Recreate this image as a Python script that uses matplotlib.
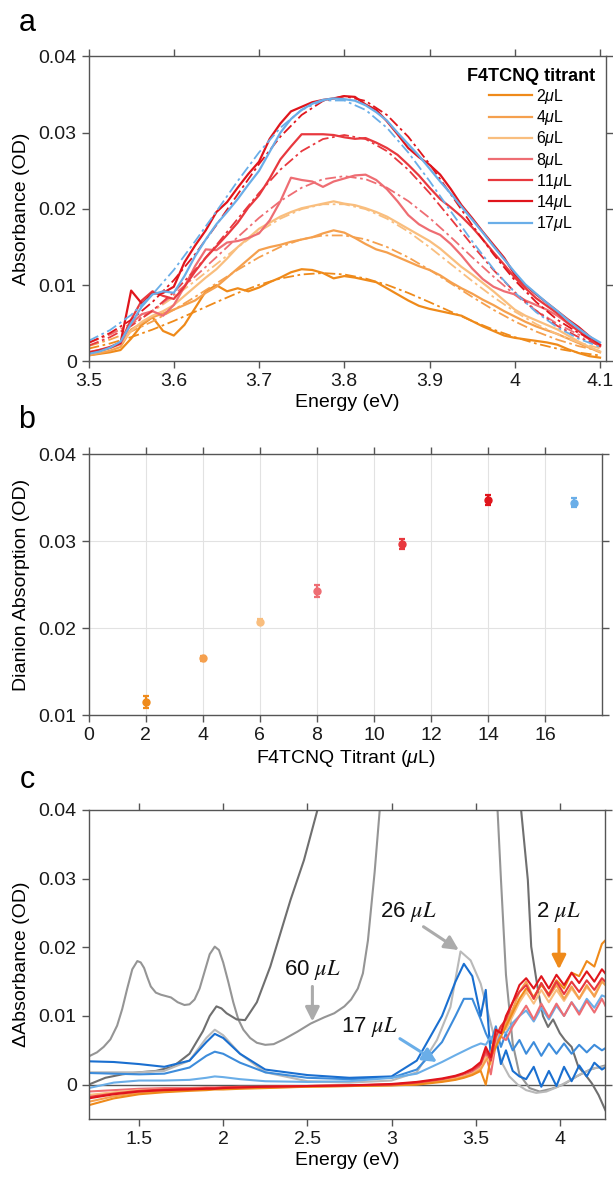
import matplotlib.pyplot as plt
from matplotlib.ticker import FuncFormatter

plt.rcParams['font.family'] = ['Liberation Sans', 'DejaVu Sans']
plt.rcParams['mathtext.fontset'] = 'custom'
plt.rcParams['mathtext.rm'] = 'Liberation Sans'
plt.rcParams['mathtext.it'] = 'Liberation Sans:italic'
plt.rcParams['mathtext.bf'] = 'Liberation Sans:bold'

# ---------------- panel a: dianion absorbance spectra ----------------
titrant_ul = [2, 4, 6, 8, 11, 14, 17]
titrant_colors = ['#EF8A1A', '#F5A04E', '#F9BE7E', '#EE6D73', '#E8383E', '#E0151C', '#6AAEE8']

energy_a = [3.5, 3.5125, 3.525, 3.5375, 3.55, 3.5625, 3.575,
            3.5875, 3.6, 3.6125, 3.625, 3.6375, 3.65, 3.6625,
            3.675, 3.6875, 3.7, 3.7125, 3.725, 3.7375, 3.75,
            3.7625, 3.775, 3.7875, 3.8, 3.8125, 3.825, 3.8375,
            3.85, 3.8625, 3.875, 3.8875, 3.9, 3.9125, 3.925,
            3.9375, 3.95, 3.9625, 3.975, 3.9875, 4.0, 4.0125,
            4.025, 4.0375, 4.05, 4.0625, 4.075, 4.0875, 4.1]

abs_2ul = [0.0008, 0.0010, 0.0012, 0.0015, 0.0030, 0.0048, 0.0058,
           0.0040, 0.0034, 0.0048, 0.0070, 0.0092, 0.0100, 0.0092,
           0.0096, 0.0092, 0.0097, 0.0104, 0.0110, 0.0117, 0.0121,
           0.0120, 0.0116, 0.0109, 0.0112, 0.0110, 0.0107, 0.0104,
           0.0096, 0.0088, 0.0080, 0.0073, 0.0069, 0.0066, 0.0063,
           0.0060, 0.0053, 0.0046, 0.0040, 0.0034, 0.0031, 0.0029,
           0.0027, 0.0025, 0.0022, 0.0016, 0.0011, 0.0007, 0.0005]
abs_4ul = [0.0008, 0.0011, 0.0014, 0.0019, 0.0042, 0.0050, 0.0058,
           0.0063, 0.0068, 0.0074, 0.0080, 0.0090, 0.0098, 0.0110,
           0.0122, 0.0134, 0.0146, 0.0150, 0.0153, 0.0157, 0.0160,
           0.0163, 0.0168, 0.0172, 0.0169, 0.0162, 0.0154, 0.0147,
           0.0143, 0.0137, 0.0131, 0.0125, 0.0120, 0.0113, 0.0104,
           0.0096, 0.0089, 0.0081, 0.0074, 0.0066, 0.0059, 0.0052,
           0.0046, 0.0041, 0.0036, 0.0030, 0.0024, 0.0018, 0.0012]
abs_6ul = [0.0010, 0.0013, 0.0017, 0.0023, 0.0040, 0.0052, 0.0060,
           0.0066, 0.0074, 0.0086, 0.0098, 0.0110, 0.0121, 0.0135,
           0.0150, 0.0162, 0.0174, 0.0182, 0.0190, 0.0196, 0.0201,
           0.0204, 0.0207, 0.0210, 0.0207, 0.0205, 0.0201, 0.0196,
           0.0190, 0.0182, 0.0174, 0.0166, 0.0158, 0.0148, 0.0136,
           0.0124, 0.0114, 0.0103, 0.0092, 0.0080, 0.0068, 0.0060,
           0.0054, 0.0048, 0.0042, 0.0034, 0.0026, 0.0019, 0.0013]
abs_8ul = [0.0012, 0.0015, 0.0018, 0.0023, 0.0050, 0.0062, 0.0066,
           0.0060, 0.0074, 0.0098, 0.0125, 0.0147, 0.0146, 0.0156,
           0.0158, 0.0162, 0.0168, 0.0185, 0.0210, 0.0241, 0.0238,
           0.0236, 0.0229, 0.0236, 0.0240, 0.0244, 0.0245, 0.0238,
           0.0226, 0.0210, 0.0192, 0.0180, 0.0172, 0.0166, 0.0154,
           0.0139, 0.0122, 0.0108, 0.0098, 0.0092, 0.0088, 0.0080,
           0.0074, 0.0068, 0.0060, 0.0050, 0.0040, 0.0030, 0.0021]
abs_11ul = [0.0012, 0.0015, 0.0019, 0.0025, 0.0055, 0.0080, 0.0092,
            0.0086, 0.0082, 0.0098, 0.0118, 0.0136, 0.0151, 0.0166,
            0.0182, 0.0202, 0.0218, 0.0240, 0.0265, 0.0282, 0.0298,
            0.0298, 0.0298, 0.0297, 0.0294, 0.0292, 0.0293, 0.0287,
            0.0280, 0.0271, 0.0258, 0.0244, 0.0228, 0.0213, 0.0202,
            0.0190, 0.0176, 0.0160, 0.0143, 0.0127, 0.0110, 0.0096,
            0.0083, 0.0073, 0.0063, 0.0050, 0.0040, 0.0029, 0.0020]
abs_14ul = [0.0011, 0.0014, 0.0018, 0.0024, 0.0093, 0.0076, 0.0089,
            0.0090, 0.0098, 0.0130, 0.0152, 0.0172, 0.0196, 0.0209,
            0.0228, 0.0246, 0.0262, 0.0292, 0.0312, 0.0328, 0.0334,
            0.0340, 0.0343, 0.0345, 0.0348, 0.0347, 0.0337, 0.0330,
            0.0315, 0.0298, 0.0280, 0.0268, 0.0258, 0.0245, 0.0226,
            0.0205, 0.0188, 0.0170, 0.0153, 0.0136, 0.0114, 0.0100,
            0.0088, 0.0077, 0.0066, 0.0055, 0.0045, 0.0033, 0.0022]
abs_17ul = [0.0010, 0.0013, 0.0018, 0.0026, 0.0050, 0.0072, 0.0088,
            0.0092, 0.0090, 0.0112, 0.0138, 0.0160, 0.0180, 0.0196,
            0.0213, 0.0232, 0.0250, 0.0275, 0.0300, 0.0318, 0.0330,
            0.0338, 0.0343, 0.0345, 0.0344, 0.0342, 0.0336, 0.0327,
            0.0316, 0.0300, 0.0285, 0.0270, 0.0253, 0.0236, 0.0220,
            0.0203, 0.0186, 0.0169, 0.0151, 0.0134, 0.0117, 0.0101,
            0.0089, 0.0077, 0.0066, 0.0054, 0.0043, 0.0033, 0.0025]

# fitted peaks (dash-dot)
energy_fit = [3.5, 3.525, 3.55, 3.575, 3.6, 3.625, 3.65, 3.675, 3.7, 3.725,
              3.75, 3.775, 3.8, 3.825, 3.85, 3.875, 3.9, 3.925, 3.95, 3.975,
              4.0, 4.025, 4.05, 4.075, 4.1]
fit_2ul = [0.00168, 0.00235, 0.00319, 0.00418, 0.00531, 0.00653, 0.00778, 0.00899, 0.01005, 0.01088,
           0.01141, 0.0116, 0.01141, 0.01088, 0.01005, 0.00899, 0.00778, 0.00653, 0.00531, 0.00418,
           0.00319, 0.00235, 0.00168, 0.00117, 0.00078]
fit_4ul = [0.00201, 0.00286, 0.00393, 0.00525, 0.00677, 0.00847, 0.01024, 0.01202, 0.01366, 0.01502,
           0.01602, 0.01653, 0.01653, 0.01602, 0.01502, 0.01366, 0.01202, 0.01024, 0.00847, 0.00677,
           0.00525, 0.00393, 0.00286, 0.00201, 0.00137]
fit_6ul = [0.00250, 0.00356, 0.00491, 0.00654, 0.00845, 0.01056, 0.01277, 0.01499, 0.01704, 0.01873,
           0.01998, 0.02062, 0.02062, 0.01998, 0.01873, 0.01704, 0.01499, 0.01277, 0.01056, 0.00845,
           0.00654, 0.00491, 0.00356, 0.00250, 0.00171]
fit_8ul = [0.00245, 0.00352, 0.00493, 0.00668, 0.00875, 0.01113, 0.01368, 0.01631, 0.01883, 0.02104,
           0.02279, 0.02391, 0.0243, 0.02391, 0.02279, 0.02104, 0.01883, 0.01631, 0.01368, 0.01113,
           0.00875, 0.00668, 0.00493, 0.00352, 0.00245]
fit_11ul = [0.00207, 0.00318, 0.00466, 0.00665, 0.00909, 0.01200, 0.01527, 0.01871, 0.02210, 0.02516,
            0.02759, 0.02917, 0.0297, 0.02917, 0.02759, 0.02516, 0.02210, 0.01871, 0.01527, 0.01200,
            0.00909, 0.00665, 0.00466, 0.00318, 0.00207]
fit_14ul = [0.00243, 0.00372, 0.00546, 0.00780, 0.01065, 0.01406, 0.01789, 0.02192, 0.02589, 0.02948,
            0.03233, 0.03417, 0.0348, 0.03417, 0.03233, 0.02948, 0.02589, 0.02192, 0.01789, 0.01406,
            0.01065, 0.00780, 0.00546, 0.00372, 0.00243]
fit_17ul = [0.00270, 0.00410, 0.00610, 0.00880, 0.01200, 0.01576, 0.01968, 0.02367, 0.02742, 0.03065,
            0.03299, 0.03423, 0.03423, 0.03299, 0.03065, 0.02742, 0.02367, 0.01968, 0.01576, 0.01214,
            0.00905, 0.00647, 0.00447, 0.00298, 0.00191]

# ---------------- panel b: peak dianion absorption ----------------
dianion_od = [0.01153, 0.01652, 0.02073, 0.02427, 0.02968, 0.03475, 0.03444]
dianion_err = [0.0007, 0.0003, 0.0003, 0.0007, 0.0006, 0.0006, 0.0005]

# ---------------- panel c: difference spectra ----------------
energy_c = [1.20, 1.35, 1.50, 1.65, 1.80, 1.90, 1.95, 2.00, 2.10, 2.25,
            2.50, 2.75, 3.00, 3.15, 3.30, 3.38, 3.43, 3.48, 3.53, 3.56,
            3.59, 3.62, 3.65, 3.68, 3.72, 3.76, 3.80, 3.845, 3.89, 3.935,
            3.98, 4.025, 4.07, 4.115, 4.16, 4.205, 4.25, 4.27]
dabs_2ul = [-0.0030, -0.0020, -0.0014, -0.0011, -0.0009, -0.0008, -0.0007, -0.0007, -0.0006, -0.0005,
            -0.0003, -0.0002, -0.0001, 0.0000, 0.0004, 0.0007, 0.0010, 0.0014, 0.0020, 0.0000,
            0.0040, 0.0055, 0.0070, 0.0085, 0.0105, 0.0125, 0.0140, 0.0128, 0.0145, 0.0132,
            0.0152, 0.0140, 0.0163, 0.0158, 0.0180, 0.0172, 0.0205, 0.0210]
dabs_4ul = [-0.0025, -0.0017, -0.0012, -0.0010, -0.0008, -0.0007, -0.0006, -0.0006, -0.0005, -0.0004,
            -0.0003, -0.0002, -0.0001, 0.0001, 0.0005, 0.0008, 0.0011, 0.0015, 0.0022, 0.0035,
            0.0045, 0.0080, 0.0075, 0.0090, 0.0110, 0.0135, 0.0150, 0.0125, 0.0148, 0.0128,
            0.0145, 0.0125, 0.0143, 0.0125, 0.0145, 0.0128, 0.0150, 0.0145]
dabs_6ul = [-0.0015, -0.0011, -0.0008, -0.0007, -0.0006, -0.0005, -0.0005, -0.0005, -0.0004, -0.0004,
            -0.0002, -0.0001, 0.0000, 0.0002, 0.0006, 0.0009, 0.0012, 0.0016, 0.0024, 0.0040,
            0.0030, 0.0065, 0.0085, 0.0080, 0.0100, 0.0120, 0.0135, 0.0118, 0.0138, 0.0120,
            0.0138, 0.0122, 0.0140, 0.0125, 0.0142, 0.0130, 0.0152, 0.0150]
dabs_8ul = [-0.0010, -0.0008, -0.0006, -0.0005, -0.0005, -0.0004, -0.0004, -0.0004, -0.0003, -0.0003,
            -0.0002, -0.0001, 0.0000, 0.0003, 0.0007, 0.0010, 0.0013, 0.0018, 0.0027, 0.0045,
            0.0015, 0.0060, 0.0070, 0.0065, 0.0085, 0.0100, 0.0115, 0.0095, 0.0118, 0.0098,
            0.0118, 0.0100, 0.0120, 0.0102, 0.0122, 0.0105, 0.0125, 0.0115]
dabs_11ul = [-0.0018, -0.0013, -0.0009, -0.0007, -0.0006, -0.0005, -0.0005, -0.0004, -0.0004, -0.0003,
             -0.0002, -0.0001, 0.0000, 0.0003, 0.0008, 0.0012, 0.0016, 0.0021, 0.0030, 0.0050,
             0.0035, 0.0070, 0.0085, 0.0095, 0.0120, 0.0135, 0.0145, 0.0125, 0.0148, 0.0130,
             0.0150, 0.0132, 0.0150, 0.0135, 0.0152, 0.0138, 0.0155, 0.0150]
dabs_14ul = [-0.0020, -0.0014, -0.0010, -0.0008, -0.0007, -0.0006, -0.0006, -0.0005, -0.0004, -0.0003,
             -0.0002, -0.0001, 0.0001, 0.0004, 0.0009, 0.0013, 0.0017, 0.0023, 0.0033, 0.0055,
             0.0040, 0.0080, 0.0075, 0.0100, 0.0120, 0.0145, 0.0155, 0.0140, 0.0158, 0.0140,
             0.0160, 0.0145, 0.0163, 0.0148, 0.0165, 0.0150, 0.0168, 0.0162]
dabs_17ul = [-0.0005, 0.0003, 0.0006, 0.0006, 0.0007, 0.0010, 0.0012, 0.0011, 0.0008, 0.0005,
             0.0004, 0.0005, 0.0010, 0.0016, 0.0033, 0.0043, 0.0049, 0.0055, 0.0060, 0.0058,
             0.0070, 0.0055, 0.0080, 0.0075, 0.0090, 0.0100, 0.0108, 0.0092, 0.0112, 0.0095,
             0.0115, 0.0100, 0.0120, 0.0105, 0.0125, 0.0112, 0.0130, 0.0128]
dabs_20ul = [0.0017, 0.0016, 0.0015, 0.0016, 0.0025, 0.0042, 0.0048, 0.0045, 0.0032, 0.0018,
             0.0010, 0.0008, 0.0010, 0.0022, 0.0062, 0.0100, 0.0125, 0.0125, 0.0095, 0.0075,
             0.0060, 0.0085, 0.0055, 0.0075, 0.0050, 0.0065, 0.0045, 0.0062, 0.0042, 0.0060,
             0.0045, 0.0060, 0.0045, 0.0058, 0.0047, 0.0058, 0.0050, 0.0053]
dabs_23ul = [0.0034, 0.0033, 0.0030, 0.0026, 0.0035, 0.0062, 0.0074, 0.0068, 0.0045, 0.0022,
             0.0014, 0.0010, 0.0012, 0.0035, 0.0100, 0.0150, 0.0176, 0.0158, 0.0100, 0.0138,
             0.0040, 0.0070, 0.0030, 0.0050, 0.0020, 0.0012, 0.0008, 0.0026, -0.0003, 0.0020,
             -0.0002, 0.0026, 0.0005, 0.0028, 0.0012, 0.0032, 0.0022, 0.0025]

energy_26ul = [1.20, 1.35, 1.50, 1.65, 1.80, 1.90, 1.95, 2.00, 2.10, 2.25,
               2.50, 2.75, 3.00, 3.15, 3.27, 3.35, 3.41, 3.47, 3.53, 3.57,
               3.62, 3.66, 3.70, 3.75, 3.80, 3.86, 3.92, 3.98, 4.05, 4.12,
               4.20, 4.27]
dabs_26ul = [0.0018, 0.0018, 0.0018, 0.0020, 0.0035, 0.0068, 0.0080, 0.0072, 0.0045, 0.0018,
             0.0005, 0.0003, 0.0006, 0.0018, 0.0065, 0.0113, 0.0194, 0.0181, 0.0147, 0.0108,
             0.0060, 0.0030, 0.0012, 0.0000, -0.0008, -0.0012, -0.0010, -0.0004, 0.0005, 0.0015,
             0.0024, 0.0026]

energy_dark = [1.20, 1.30, 1.40, 1.50, 1.60, 1.70, 1.80, 1.88, 1.92, 1.96,
               1.99, 2.02, 2.08, 2.13, 2.20, 2.28, 2.40, 2.48, 2.56, 2.62,
               3.74, 3.77, 3.81, 3.83, 3.87, 3.90, 3.93, 3.96, 4.00, 4.03,
               4.07, 4.11, 4.15, 4.19, 4.23, 4.27]
dabs_dark = [0.0000, 0.0010, 0.0015, 0.0018, 0.0020, 0.0026, 0.0045, 0.0078, 0.0100, 0.0114,
             0.0111, 0.0104, 0.0095, 0.0094, 0.0120, 0.0172, 0.0269, 0.0327, 0.0400, 0.0460,
             0.0460, 0.0400, 0.0298, 0.0201, 0.0138, 0.0100, 0.0084, 0.0095, 0.0075, 0.0065,
             0.0055, 0.0026, 0.0015, 0.0002, -0.0015, -0.0037]

energy_60ul = [1.20, 1.25, 1.29, 1.33, 1.37, 1.40, 1.43, 1.46, 1.49, 1.51,
               1.53, 1.55, 1.57, 1.60, 1.63, 1.69, 1.73, 1.77, 1.80, 1.83,
               1.86, 1.89, 1.92, 1.95, 1.975, 2.00, 2.03, 2.06, 2.09, 2.12,
               2.16, 2.20, 2.25, 2.30, 2.36, 2.44, 2.52, 2.60, 2.66, 2.72,
               2.76, 2.80, 2.83, 2.86, 2.90, 2.93, 2.96, 3.60, 3.63, 3.65,
               3.68, 3.72, 3.76, 3.82, 3.88, 3.95, 4.02, 4.10, 4.18, 4.27]
dabs_60ul = [0.0041, 0.0047, 0.0055, 0.0066, 0.0086, 0.0110, 0.0140, 0.0168, 0.0180, 0.0178,
             0.0170, 0.0156, 0.0143, 0.0134, 0.0131, 0.0127, 0.0120, 0.0116, 0.0117, 0.0124,
             0.0140, 0.0165, 0.0190, 0.0201, 0.0196, 0.0178, 0.0150, 0.0120, 0.0095, 0.0080,
             0.0068, 0.0061, 0.0058, 0.0059, 0.0066, 0.0077, 0.0089, 0.0098, 0.0104, 0.0114,
             0.0124, 0.0140, 0.0162, 0.0210, 0.0310, 0.0400, 0.0460, 0.0460, 0.0400, 0.0300,
             0.0160, 0.0060, 0.0015, -0.0005, -0.0010, -0.0006, 0.0000, 0.0012, 0.0022, 0.0028]

SPINE = '#555555'


def style_axes(ax):
    for s in ax.spines.values():
        s.set_color(SPINE)
        s.set_linewidth(1.0)
    ax.tick_params(direction='out', length=5, width=1, color=SPINE, labelsize=14,
                   labelcolor='#1a1a1a', top=True, right=True)
    ax.xaxis.set_major_formatter(FuncFormatter(lambda v, p: f'{v:g}'))
    ax.yaxis.set_major_formatter(FuncFormatter(lambda v, p: f'{v:g}'))


fig = plt.figure(figsize=(6.13, 11.84), dpi=100)

# panel a
ax_a = fig.add_axes([0.1444, 0.6947, 0.8442, 0.2576])
spectra = [abs_2ul, abs_4ul, abs_6ul, abs_8ul, abs_11ul, abs_14ul, abs_17ul]
fits = [fit_2ul, fit_4ul, fit_6ul, fit_8ul, fit_11ul, fit_14ul, fit_17ul]
handles = []
for spec, fit, col in zip(spectra, fits, titrant_colors):
    h, = ax_a.plot(energy_a, spec, color=col, lw=1.6)
    ax_a.plot(energy_fit, fit, color=col, lw=1.3, ls=(0, (6, 2, 1.5, 2)))
    handles.append(h)
ax_a.set_xlim(3.5, 4.107)
ax_a.set_ylim(0, 0.04)
ax_a.set_xticks([3.5, 3.6, 3.7, 3.8, 3.9, 4.0, 4.1])
ax_a.set_yticks([0, 0.01, 0.02, 0.03, 0.04])
style_axes(ax_a)
ax_a.set_xlabel('Energy (eV)', fontsize=14, labelpad=3)
ax_a.set_ylabel('Absorbance (OD)', fontsize=14, labelpad=6)
leg = ax_a.legend(handles, [f'{v}$\\mu$L' for v in titrant_ul], title='F4TCNQ titrant',
                  loc='upper right', bbox_to_anchor=(1.0, 1.0), frameon=False, fontsize=11.5,
                  title_fontproperties={'weight': 'bold', 'size': 13},
                  handlelength=2.7, handletextpad=0.25, labelspacing=0.14, borderaxespad=0.3)

# panel b
ax_b = fig.add_axes([0.1444, 0.3961, 0.838, 0.2202])
for x, y, e, col in zip(titrant_ul, dianion_od, dianion_err, titrant_colors):
    ax_b.errorbar(x, y, yerr=e, fmt='o', color=col, ms=5, capsize=2.5,
                  elinewidth=1.6, capthick=1.6, zorder=3)
ax_b.set_xlim(0, 18)
ax_b.set_ylim(0.01, 0.04)
ax_b.set_xticks(range(0, 17, 2))
ax_b.set_yticks([0.01, 0.02, 0.03, 0.04])
ax_b.grid(True, color='#e2e2e2', lw=0.8)
ax_b.set_axisbelow(True)
style_axes(ax_b)
ax_b.set_xlabel('F4TCNQ Titrant ($\\mu$L)', fontsize=14, labelpad=3)
ax_b.set_ylabel('Dianion Absorption (OD)', fontsize=14, labelpad=6)

# panel c
ax_c = fig.add_axes([0.1444, 0.0549, 0.843, 0.261])
ax_c.axhline(0, color=SPINE, lw=1.0, zorder=1)
ax_c.plot(energy_60ul, dabs_60ul, color='#959595', lw=1.5)
ax_c.plot(energy_dark, dabs_dark, color='#6F6F6F', lw=1.5)
ax_c.plot(energy_26ul, dabs_26ul, color='#B9B9B9', lw=1.5)
ax_c.plot(energy_c, dabs_20ul, color='#3D8CDB', lw=1.5)
ax_c.plot(energy_c, dabs_23ul, color='#1A6FD0', lw=1.5)
ax_c.plot(energy_c, dabs_17ul, color=titrant_colors[6], lw=1.5)
for d, col in zip([dabs_8ul, dabs_6ul, dabs_4ul, dabs_2ul, dabs_11ul, dabs_14ul],
                  [titrant_colors[3], titrant_colors[2], titrant_colors[1], titrant_colors[0],
                   titrant_colors[4], titrant_colors[5]]):
    ax_c.plot(energy_c, d, color=col, lw=1.5)
ax_c.set_xlim(1.2, 4.27)
ax_c.set_ylim(-0.005, 0.04)
ax_c.set_xticks([1.5, 2.0, 2.5, 3.0, 3.5, 4.0])
ax_c.set_yticks([0, 0.01, 0.02, 0.03, 0.04])
style_axes(ax_c)
ax_c.set_xlabel('Energy (eV)', fontsize=14, labelpad=3)
ax_c.set_ylabel('\u0394Absorbance (OD)', fontsize=14, labelpad=6)

arrow_kw = dict(arrowstyle='-|>,head_length=0.7,head_width=0.35', lw=2.2, mutation_scale=12,
                shrinkA=0, shrinkB=0)
notes = [('60 $\\mu L$', (2.53, 0.0167), (2.53, 0.0143), (2.53, 0.0092), '#ABABAB'),
         ('26 $\\mu L$', (3.10, 0.0251), (3.19, 0.0230), (3.40, 0.0196), '#ABABAB'),
         ('17 $\\mu L$', (2.87, 0.0084), (3.05, 0.0067), (3.27, 0.0033), '#6AAEE8'),
         ('2 $\\mu L$', (3.99, 0.0251), (3.995, 0.0226), (3.995, 0.0168), '#EF8A1A')]
for label, tpos, start, end, col in notes:
    ax_c.text(tpos[0], tpos[1], label, fontsize=16, ha='center', va='center',
              math_fontfamily='stix', color='#111111')
    ax_c.annotate('', xy=end, xytext=start, arrowprops=dict(color=col, **arrow_kw))

for lab, ypix in [('a', 23), ('b', 420), ('c', 780)]:
    fig.text(0.044, 1 - ypix / 1184, lab, fontsize=22, ha='center', va='center')

fig.savefig('out.png', dpi=100)
